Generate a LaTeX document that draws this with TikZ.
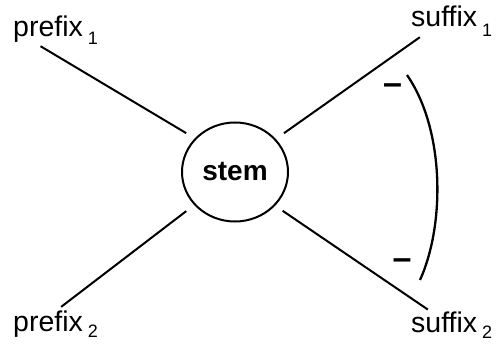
\documentclass[tikz,border=0pt]{standalone}
\usepackage{fontspec}
\setmainfont{Liberation Sans}
\usetikzlibrary{shapes.geometric}
\newcommand{\lsub}[2][7pt]{\hspace{5pt}\raisebox{-#1}{\fontsize{18}{18}\selectfont #2}}
\tikzset{
  lab/.style={anchor=base west, inner sep=0pt, font=\fontsize{28.5}{30}\selectfont},
  link/.style={line width=2pt, shorten <=10pt},
  minus/.style={inner sep=0pt, font=\fontsize{34}{34}\selectfont\bfseries},
}
\begin{document}
\begin{tikzpicture}[x=1pt, y=-1pt]
        \useasboundingbox (0,0) rectangle (499,350);
        \node[ellipse, draw, line width=2pt, minimum width=106pt, minimum height=99pt, inner sep=0pt,
              font=\fontsize{28}{30}\selectfont\bfseries] (stem) at (235,172) {stem};
        \node[lab] (pre1) at (13,37) {prefix\lsub[8pt]{1}};
        \node[lab] (suf1) at (411,27) {suffix\lsub[10pt]{1}};
        \node[lab] (pre2) at (13,332) {prefix\lsub[6pt]{2}};
        \node[lab] (suf2) at (411,333) {suffix\lsub[6pt]{2}};
        \draw[link, shorten >=2pt] (stem.140) -- (pre1.221);
        \draw[link, shorten >=0pt] (stem.39) -- (suf1.206);
        \draw[link, shorten >=7pt] (stem.219) -- (pre2.north);
        \draw[link, shorten <=9pt, shorten >=4.6pt] (stem.320) -- (suf2.146);
        % bracket with the two minus signs
        \draw[line width=2.3pt] (407,75) .. controls (445,130) and (445,225) .. (420,280);
        \node[minus] (mtop) at (392.5,89) {--};
        \node[minus] (mbot) at (402,264) {--};
\end{tikzpicture}
\end{document}
